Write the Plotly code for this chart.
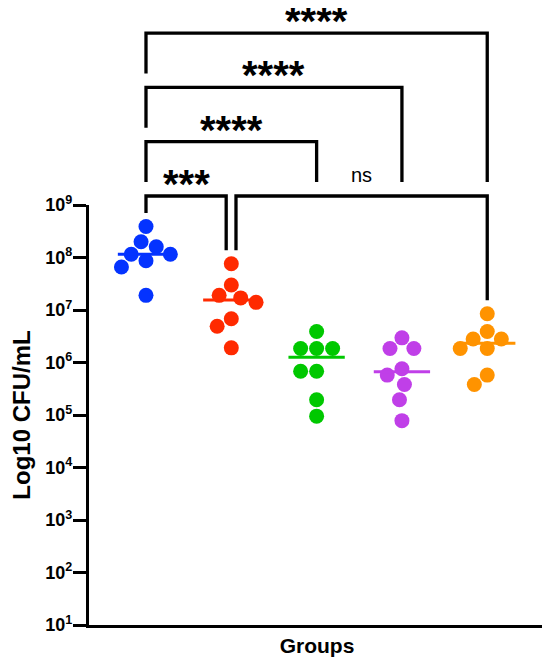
import numpy as np
import plotly.graph_objects as go

# CFU/mL per animal
groups = ["G1", "G2", "G3", "G4", "G5"]
colors = ["#0433FF", "#FF2A00", "#00C800", "#C03FE8", "#FF9300"]

g1 = [3.9e8, 2.0e8, 1.6e8, 1.15e8, 1.15e8, 8.7e7, 6.6e7, 1.9e7]
g2 = [7.6e7, 3.0e7, 1.9e7, 1.7e7, 1.4e7, 6.8e6, 4.9e6, 1.9e6]
g3 = [3.9e6, 1.85e6, 1.85e6, 1.85e6, 6.8e5, 6.8e5, 1.95e5, 9.5e4]
g4 = [2.95e6, 1.85e6, 1.85e6, 7.6e5, 5.75e5, 3.8e5, 1.95e5, 7.8e4]
g5 = [8.5e6, 3.9e6, 2.8e6, 2.8e6, 1.85e6, 1.85e6, 5.75e5, 3.8e5]
values = [g1, g2, g3, g4, g5]

tick_vals = [1e1, 1e2, 1e3, 1e4, 1e5, 1e6, 1e7, 1e8, 1e9]
tick_text = ["10<sup>%d</sup>" % n for n in range(1, 10)]

# (left group, right group, label)
comparisons = [(0, 1, "***"), (1, 4, "ns"), (0, 2, "****"), (0, 3, "****"), (0, 4, "****")]
levels = [0, 0, 1, 2, 3]

# plot geometry (px); the page body adds an 8px offset
W, H = 542, 657
ML, MR, MT, MB = 81, 5, 197, 40
XR = [-0.668, 4.677]
PX_CAT = (W - ML - MR) / (XR[1] - XR[0])
PX_DEC = (H - MT - MB) / 8.0
PLOT_H = H - MT - MB
DOT = 15


def swarm(vals, d=16.0):
    # simple greedy beeswarm in pixel space
    ys = np.log10(vals) * PX_DEC
    placed = []
    for y in ys:
        cands = [0.0]
        for px, py in placed:
            dy = abs(y - py)
            if dy < d:
                dx = np.sqrt(d * d - dy * dy)
                cands += [px - dx, px + dx]
        cands.sort(key=lambda c: (abs(c), c))
        for c in cands:
            if all((c - px) ** 2 + (y - py) ** 2 >= d * d - 1e-6 for px, py in placed):
                break
        placed.append((c, y))
    return np.array([p[0] for p in placed]) / PX_CAT


fig = go.Figure()

for i, (vals, col) in enumerate(zip(values, colors)):
    xs = i + swarm(vals)
    fig.add_trace(go.Scatter(x=xs, y=vals, mode="markers",
                             marker=dict(size=DOT, color=col, line=dict(width=0)),
                             showlegend=False, name=groups[i]))
    med = np.median(vals)
    fig.add_trace(go.Scatter(x=[i - 0.33, i + 0.33], y=[med, med], mode="lines",
                             line=dict(color=col, width=3), showlegend=False, hoverinfo="skip"))


def paper(v):
    return (np.log10(v) - 1) / 8.0


top0 = 1 + 9 / PLOT_H
step = 54.3 / PLOT_H
gap = 14 / PLOT_H
ends = {}
for (a, b, lab), lv in zip(comparisons, levels):
    ends[(a, b)] = (a + (0.055 if lv == 0 and a > 0 else 0),
                    b - (0.06 if lv == 0 and b == 1 else 0))

shapes = []
annotations = []
for (a, b, lab), lv in zip(comparisons, levels):
    yt = top0 + lv * step
    xa, xb = ends[(a, b)]
    drops = []
    for g in (a, b):
        lower = [top0 + lv2 * step for (a2, b2, _), lv2 in zip(comparisons, levels)
                 if lv2 < lv and a2 <= g <= b2]
        if lower:
            drops.append(max(lower) + gap)
        else:
            drops.append(paper(max(values[g])) + 13.5 / PLOT_H)
    path = "M %f,%f L %f,%f L %f,%f L %f,%f" % (xa, drops[0], xa, yt, xb, yt, xb, drops[1])
    shapes.append(dict(type="path", path=path, xref="x", yref="paper",
                       line=dict(color="black", width=3.3)))
    if lab == "ns":
        annotations.append(dict(x=(xa + xb) / 2, y=yt, xref="x", yref="paper", text=lab,
                                showarrow=False, yanchor="bottom", yshift=8,
                                font=dict(size=20, color="black", family="Liberation Sans, Arial")))
    else:
        annotations.append(dict(x=(xa + xb) / 2, y=yt, xref="x", yref="paper", text=lab,
                                showarrow=False, yanchor="bottom", yshift=-12,
                                font=dict(size=40, color="black", family="Liberation Sans, Arial",
                                          weight="bold")))

fig.update_layout(
    width=W, height=H,
    margin=dict(l=ML, r=MR, t=MT, b=MB, autoexpand=False),
    plot_bgcolor="white", paper_bgcolor="white",
    font=dict(family="Liberation Sans, Arial", color="black"),
    shapes=shapes, annotations=annotations,
    xaxis=dict(range=XR, showticklabels=False, ticks="", showgrid=False, zeroline=False,
               showline=True, linewidth=3.3, linecolor="black", automargin=False,
               title=dict(text="Groups", standoff=12,
                          font=dict(size=21, weight="bold"))),
    yaxis=dict(type="log", range=[1, 9], tickvals=tick_vals, ticktext=tick_text,
               ticks="outside", ticklen=13, tickwidth=3.3, tickcolor="black",
               showgrid=False, zeroline=False, showline=True, linewidth=3.3, linecolor="black",
               automargin=False, ticklabelstandoff=-3,
               tickfont=dict(size=18, weight="bold"),
               title=dict(text="Log10 CFU/mL", standoff=16,
                          font=dict(size=24, weight="bold"))),
)

fig.write_html("out.html")
